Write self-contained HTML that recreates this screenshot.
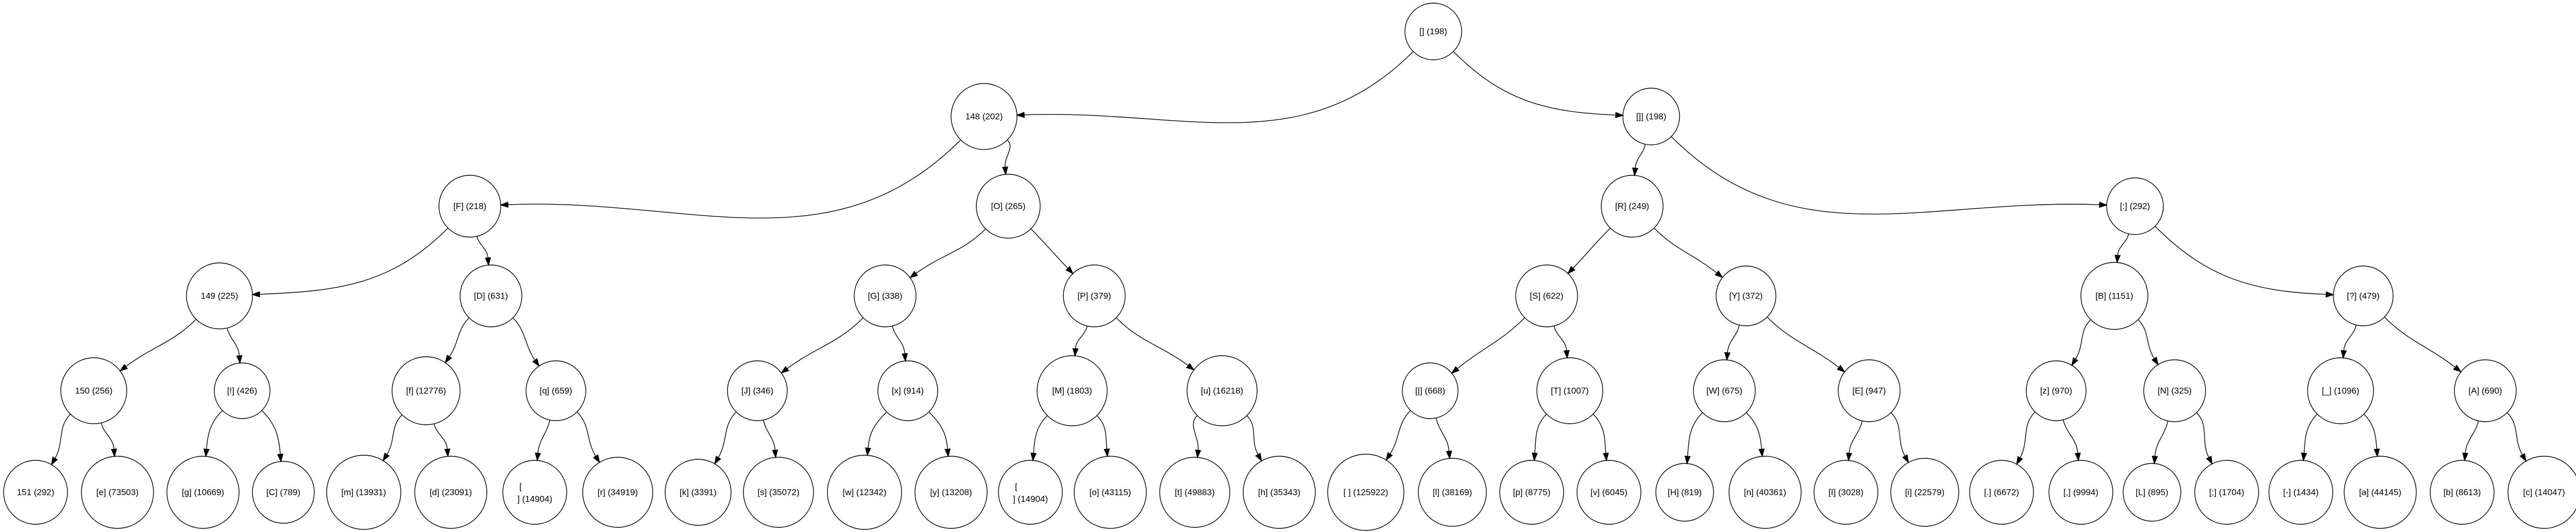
<!DOCTYPE html>
<html><head><meta charset="utf-8">
<style>
html,body{margin:0;padding:0;background:#fff;}
svg{display:block;}
text{font-family:"Liberation Sans",Arial,sans-serif;font-size:17px;fill:#000;}
circle{fill:none;stroke:#000;stroke-width:1.4;}
</style></head>
<body>
<svg id="svgroot" width="5017" height="1032" viewBox="0 0 5017 1032" xmlns="http://www.w3.org/2000/svg">
<g id="edges" fill="none" stroke="#000" stroke-width="1.4"></g>
<g id="nodes" text-anchor="middle" dominant-baseline="central">
<circle id="root" cx="2782" cy="61" r="55"/><text x="2782" y="61">[] (198)</text>
<circle id="n148" cx="1910" cy="226" r="64"/><text x="1910" y="226">148 (202)</text>
<circle id="rb" cx="3205" cy="226" r="55"/><text x="3205" y="226">[]] (198)</text>

<circle id="F" cx="912" cy="400" r="60"/><text x="912" y="400">[F] (218)</text>
<circle id="O" cx="1957" cy="400" r="62"/><text x="1957" y="400">[O] (265)</text>
<circle id="R" cx="3168" cy="400" r="60"/><text x="3168" y="400">[R] (249)</text>
<circle id="colon" cx="4144" cy="400" r="55"/><text x="4144" y="400">[:] (292)</text>

<circle id="n149" cx="426" cy="574" r="64"/><text x="426" y="574">149 (225)</text>
<circle id="D" cx="953" cy="574" r="60"/><text x="953" y="574">[D] (631)</text>
<circle id="G" cx="1718" cy="574" r="60"/><text x="1718" y="574">[G] (338)</text>
<circle id="P" cx="2124" cy="574" r="60"/><text x="2124" y="574">[P] (379)</text>
<circle id="S" cx="3002" cy="574" r="60"/><text x="3002" y="574">[S] (622)</text>
<circle id="Y" cx="3389" cy="574" r="58"/><text x="3389" y="574">[Y] (372)</text>
<circle id="B" cx="4104" cy="574" r="65"/><text x="4104" y="574">[B] (1151)</text>
<circle id="Q" cx="4587" cy="574" r="58"/><text x="4587" y="574">[?] (479)</text>

<circle id="n150" cx="182" cy="758" r="64"/><text x="182" y="758">150 (256)</text>
<circle id="ex" cx="470" cy="758" r="54"/><text x="470" y="758">[!] (426)</text>
<circle id="nf" cx="827" cy="758" r="66"/><text x="827" y="758">[f] (12776)</text>
<circle id="nq" cx="1079" cy="758" r="58"/><text x="1079" y="758">[q] (659)</text>
<circle id="J" cx="1470" cy="758" r="58"/><text x="1470" y="758">[J] (346)</text>
<circle id="nx" cx="1762" cy="758" r="58"/><text x="1762" y="758">[x] (914)</text>
<circle id="M" cx="2081" cy="758" r="68"/><text x="2081" y="758">[M] (1803)</text>
<circle id="nu" cx="2372" cy="758" r="68"/><text x="2372" y="758">[u] (16218)</text>
<circle id="pipe" cx="2776" cy="758" r="54"/><text x="2776" y="758">[|] (668)</text>
<circle id="T" cx="3047" cy="758" r="64"/><text x="3047" y="758">[T] (1007)</text>
<circle id="W" cx="3347" cy="758" r="60"/><text x="3347" y="758">[W] (675)</text>
<circle id="E" cx="3628" cy="758" r="60"/><text x="3628" y="758">[E] (947)</text>
<circle id="nz" cx="3991" cy="758" r="58"/><text x="3991" y="758">[z] (970)</text>
<circle id="N" cx="4221" cy="758" r="60"/><text x="4221" y="758">[N] (325)</text>
<circle id="us" cx="4543" cy="758" r="64"/><text x="4543" y="758">[_] (1096)</text>
<circle id="A" cx="4824" cy="758" r="60"/><text x="4824" y="758">[A] (690)</text>

<circle id="n151" cx="69" cy="955" r="62"/><text x="69" y="955">151 (292)</text>
<circle id="ne" cx="228" cy="955" r="70"/><text x="228" y="955">[e] (73503)</text>
<circle id="ng" cx="394" cy="955" r="70"/><text x="394" y="955">[g] (10669)</text>
<circle id="C" cx="550" cy="955" r="60"/><text x="550" y="955">[C] (789)</text>
<circle id="nm" cx="706" cy="955" r="72"/><text x="706" y="955">[m] (13931)</text>
<circle id="nd" cx="875" cy="955" r="70"/><text x="875" y="955">[d] (23091)</text>
<circle id="nl1" cx="1038" cy="955" r="62"/><text x="1008" y="944" text-anchor="start">[</text><text x="1038" y="968">] (14904)</text>
<circle id="nr" cx="1199" cy="955" r="68"/><text x="1199" y="955">[r] (34919)</text>
<circle id="nk" cx="1355" cy="955" r="64"/><text x="1355" y="955">[k] (3391)</text>
<circle id="ns" cx="1511" cy="955" r="68"/><text x="1511" y="955">[s] (35072)</text>
<circle id="nw" cx="1678" cy="955" r="72"/><text x="1678" y="955">[w] (12342)</text>
<circle id="ny" cx="1846" cy="955" r="70"/><text x="1846" y="955">[y] (13208)</text>
<circle id="nl2" cx="2000" cy="955" r="62"/><text x="1970" y="944" text-anchor="start">[</text><text x="2000" y="968">] (14904)</text>
<circle id="no" cx="2155" cy="955" r="70"/><text x="2155" y="955">[o] (43115)</text>
<circle id="nt" cx="2319" cy="955" r="68"/><text x="2319" y="955">[t] (49883)</text>
<circle id="nh" cx="2483" cy="955" r="70"/><text x="2483" y="955">[h] (35343)</text>
<circle id="sp" cx="2651" cy="955" r="74"/><text x="2651" y="955">[ ] (125922)</text>
<circle id="nl" cx="2819" cy="955" r="66"/><text x="2819" y="955">[l] (38169)</text>
<circle id="np" cx="2973" cy="955" r="62"/><text x="2973" y="955">[p] (8775)</text>
<circle id="nv" cx="3123" cy="955" r="62"/><text x="3123" y="955">[v] (6045)</text>
<circle id="H" cx="3270" cy="955" r="56"/><text x="3270" y="955">[H] (819)</text>
<circle id="nn" cx="3426" cy="955" r="70"/><text x="3426" y="955">[n] (40361)</text>
<circle id="I" cx="3583" cy="955" r="62"/><text x="3583" y="955">[I] (3028)</text>
<circle id="ni" cx="3736" cy="955" r="66"/><text x="3736" y="955">[i] (22579)</text>
<circle id="dot" cx="3885" cy="955" r="62"/><text x="3885" y="955">[.] (6672)</text>
<circle id="comma" cx="4039" cy="955" r="62"/><text x="4039" y="955">[,] (9994)</text>
<circle id="L" cx="4177" cy="955" r="56"/><text x="4177" y="955">[L] (895)</text>
<circle id="semi" cx="4322" cy="955" r="62"/><text x="4322" y="955">[;] (1704)</text>
<circle id="dash" cx="4466" cy="955" r="62"/><text x="4466" y="955">[-] (1434)</text>
<circle id="na" cx="4620" cy="955" r="70"/><text x="4620" y="955">[a] (44145)</text>
<circle id="nb" cx="4779" cy="955" r="62"/><text x="4779" y="955">[b] (8613)</text>
<circle id="nc" cx="4938" cy="955" r="70"/><text x="4938" y="955">[c] (14047)</text>
</g>
</svg>
<script>
(function(){
var E=[["root","n148"],["root","rb"],["n148","F"],["n148","O"],["F","n149"],["F","D"],["O","G"],["O","P"],
["n149","n150"],["n149","ex"],["D","nf"],["D","nq"],["G","J"],["G","nx"],["P","M"],["P","nu"],
["n150","n151"],["n150","ne"],["ex","ng"],["ex","C"],["nf","nm"],["nf","nd"],["nq","nl1"],["nq","nr"],
["J","nk"],["J","ns"],["nx","nw"],["nx","ny"],["M","nl2"],["M","no"],["nu","nt"],["nu","nh"],
["rb","R"],["rb","colon"],["R","S"],["R","Y"],["colon","B"],["colon","Q"],
["S","pipe"],["S","T"],["Y","W"],["Y","E"],["B","nz"],["B","N"],["Q","us"],["Q","A"],
["pipe","sp"],["pipe","nl"],["T","np"],["T","nv"],["W","H"],["W","nn"],["E","I"],["E","ni"],
["nz","dot"],["nz","comma"],["N","L"],["N","semi"],["us","dash"],["us","na"],["A","nb"],["A","nc"]];
function g(id){var c=document.getElementById(id);return {x:+c.getAttribute("cx"),y:+c.getAttribute("cy"),r:+c.getAttribute("r")};}
var G=document.getElementById("edges"),out="";
E.forEach(function(e){
 var a=g(e[0]),b=g(e[1]);var dx=b.x-a.x,dy=b.y-a.y;var sx=dx>=0?1:-1;
 var sd;
 if(Math.abs(dx)>0.25*dy){sd=[sx*0.707,0.707];}else{var L0=Math.hypot(dx,dy);sd=[dx/L0,dy/L0];}
 var ad;
 if(Math.abs(dx)>1.6*dy){ad=[sx,0.04];}
 else if(Math.abs(dx)<0.45*dy){ad=[sx*0.08,1];}
 else{ad=[dx,dy];}
 var al=Math.hypot(ad[0],ad[1]);ad=[ad[0]/al,ad[1]/al];
 var p0=[a.x+sd[0]*a.r,a.y+sd[1]*a.r];
 var tip=[b.x-ad[0]*b.r,b.y-ad[1]*b.r];
 var base=[tip[0]-ad[0]*14,tip[1]-ad[1]*14];
 var D=Math.hypot(base[0]-p0[0],base[1]-p0[1]);var L=D*0.4;
 var c1=[p0[0]+sd[0]*L,p0[1]+sd[1]*L],c2=[base[0]-ad[0]*L,base[1]-ad[1]*L];
 out+='<path d="M'+p0[0].toFixed(1)+','+p0[1].toFixed(1)+' C'+c1[0].toFixed(1)+','+c1[1].toFixed(1)+' '+c2[0].toFixed(1)+','+c2[1].toFixed(1)+' '+base[0].toFixed(1)+','+base[1].toFixed(1)+'"/>';
 var px=-ad[1],py=ad[0];
 out+='<polygon fill="#000" points="'+tip[0].toFixed(1)+','+tip[1].toFixed(1)+' '+(base[0]+px*5).toFixed(1)+','+(base[1]+py*5).toFixed(1)+' '+(base[0]-px*5).toFixed(1)+','+(base[1]-py*5).toFixed(1)+'"/>';
});
G.innerHTML=out;
})();
</script>
</body></html>
